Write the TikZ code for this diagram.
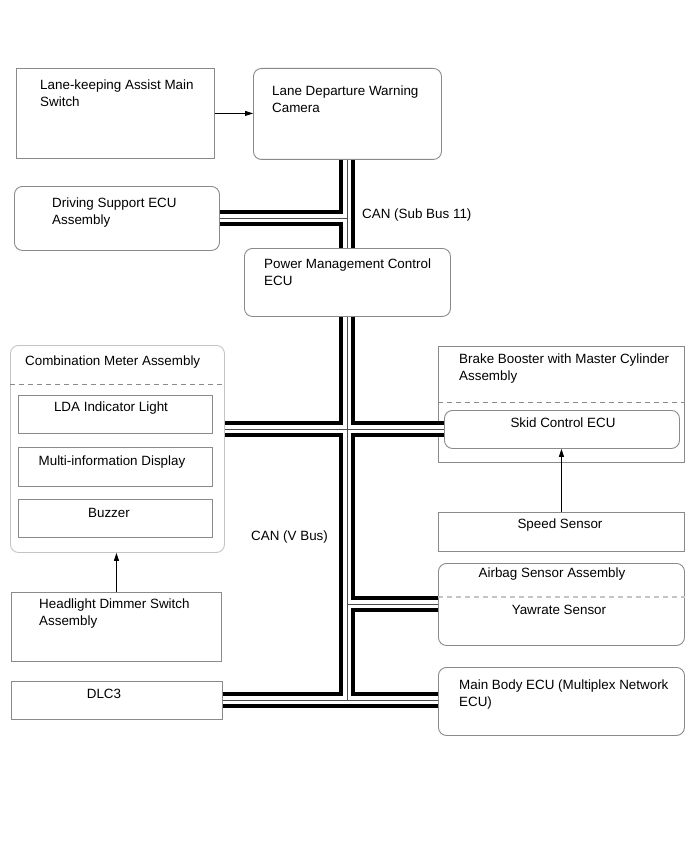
\documentclass[tikz,border=0pt]{standalone}
\usepackage{fontspec}
\setmainfont{Liberation Sans}
\usetikzlibrary{arrows.meta,positioning,calc}
\definecolor{edge}{HTML}{8A8A8A}
\definecolor{faint}{HTML}{C4C4C4}

\begin{document}
\begin{tikzpicture}[x=1pt,y=-1pt,
 box/.style={draw=edge,line width=.9pt,anchor=north west,inner sep=0pt},
 rbox/.style={box,rounded corners=8pt},
 txt/.style={anchor=north west,inner sep=0pt,align=left,font=\fontsize{13.4}{16.5}\selectfont},
 ctxt/.style={txt,anchor=north,align=center},
 arr/.style={-{Triangle[length=8pt,width=5pt]},line width=.8pt},
 busouter/.style={line width=16pt,black},
 businner/.style={line width=8pt,white},
 buscore/.style={line width=.8pt,black!70},
 sep/.style={dash pattern=on 5pt off 4pt,line width=.8pt}]
\useasboundingbox (0,0) rectangle (690,853);
% boxes
\node[box,minimum width=198pt,minimum height=90pt] (lka) at (16,68) {};
\node[rbox,minimum width=188pt,minimum height=91pt] (cam) at (253,68) {};
\node[rbox,minimum width=205pt,minimum height=64pt] (dse) at (14,186) {};
\node[rbox,minimum width=206pt,minimum height=68pt] (pmc) at (244,248) {};
\node[rbox,draw=faint,minimum width=214pt,minimum height=207pt] (cma) at (10,345) {};
\node[box,minimum width=194pt,minimum height=38pt] (lda) at (18,395) {};
\node[box,minimum width=194pt,minimum height=39pt] (mid) at (18,447) {};
\node[box,minimum width=194pt,minimum height=38pt] (buz) at (18,499) {};
\node[box,minimum width=246pt,minimum height=116pt] (bbm) at (438,346) {};
\node[rbox,minimum width=235pt,minimum height=38pt] (skid) at (444,410) {};
\node[box,minimum width=246pt,minimum height=39pt] (spd) at (438,512) {};
\node[rbox,minimum width=246pt,minimum height=82pt] (ab) at (438,563) {};
\node[rbox,minimum width=246pt,minimum height=68pt] (mb) at (438,667) {};
\node[box,minimum width=210pt,minimum height=69pt] (hds) at (11,592) {};
\node[box,minimum width=211pt,minimum height=38pt] (dlc) at (11,681) {};
% separators
\draw[sep,draw=edge] (cma.west |- 0,384) -- (cma.east |- 0,384);
\draw[sep,draw=edge] (bbm.west |- 0,402) -- (bbm.east |- 0,402);
\draw[sep,draw=faint,line width=1.2pt] (ab.west |- 0,597) -- (ab.east |- 0,597);
% texts
\node[txt] (lkat) at (40,80) {Lane-keeping Assist Main\\Switch};
\node[txt] (camt) at (272,86) {Lane Departure Warning\\Camera};
\node[txt] (dset) at (52,198) {Driving Support ECU\\Assembly};
\node[txt] (pmct) at (264,259) {Power Management Control\\ECU};
\node[txt] (cmat) at (25,356) {Combination Meter Assembly};
\node[ctxt] (ldat) at (111,402) {LDA Indicator Light};
\node[ctxt] (midt) at (112,456) {Multi-information Display};
\node[ctxt] (buzt) at (109,508) {Buzzer};
\node[txt] (bbmt) at (459,354) {Brake Booster with Master Cylinder\\Assembly};
\node[ctxt] (skidt) at (563,418) {Skid Control ECU};
\node[ctxt] (spdt) at (560,519) {Speed Sensor};
\node[ctxt] (abt) at (552,568) {Airbag Sensor Assembly};
\node[ctxt] (yawt) at (559,605) {Yawrate Sensor};
\node[txt] (mbt) at (459,680) {Main Body ECU (Multiplex Network\\ECU)};
\node[txt] (hdst) at (39,599) {Headlight Dimmer Switch\\Assembly};
\node[ctxt] (dlct) at (104,689) {DLC3};
\node[txt] (sub) at (362,209) {CAN (Sub Bus 11)};
\node[txt] (vbus) at (251,531) {CAN (V Bus)};
% buses
\foreach \sty in {busouter,businner,buscore}{
 \draw[\sty] (cam.south) -- (cam.south |- pmc.north);
 \draw[\sty] (dse.east) -- (dse.east -| cam.south);
 \draw[\sty] (pmc.south) -- (pmc.south |- dlc.east);
 \draw[\sty] (skid.west -| cma.east) -- (skid.west);
 \draw[\sty] (ab.west) -- (ab.west -| pmc.south);
 \draw[\sty] (dlc.east) -- (dlc.east -| mb.west);
}
% signal lines
\draw[arr] (lka.east) -- (lka.east -| cam.west);
\draw[arr] (spd.north) -- (spd.north |- skid.south);
\draw[arr] (hds.north) -- (hds.north |- cma.south);
\end{tikzpicture}
\end{document}
